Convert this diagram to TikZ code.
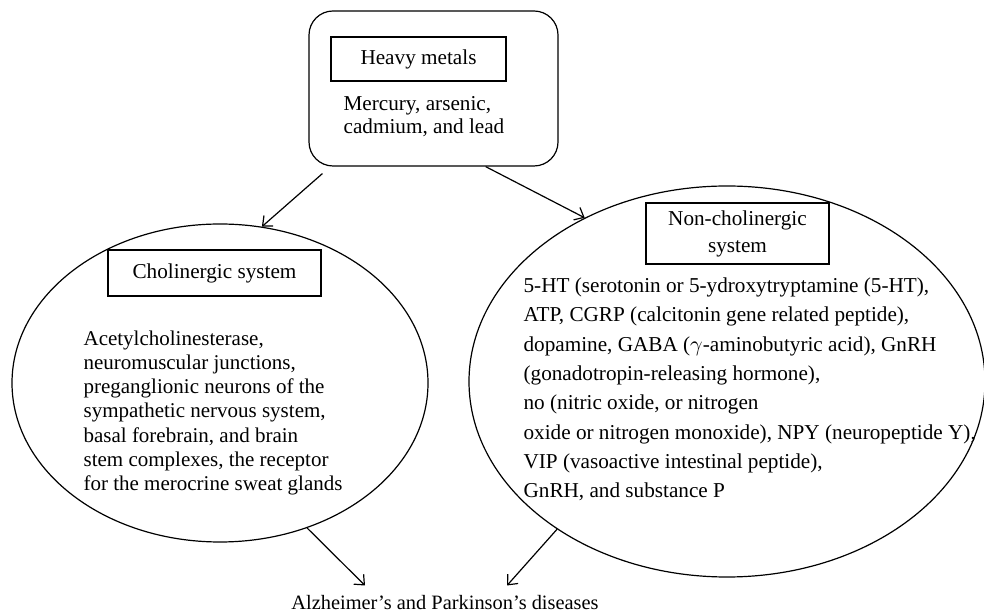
\documentclass[tikz,border=0pt]{standalone}
\usepackage{fontspec}
\setmainfont{Liberation Serif}
\usetikzlibrary{shapes.geometric,arrows.meta}

\begin{document}
\begin{tikzpicture}[x=0.5pt,y=-0.5pt]
\tikzset{cadre/.style={draw, rectangle, inner sep=0pt, align=center, font=\fontsize{10.6}{13.5}\selectfont},
         bulle/.style={draw, ellipse, inner sep=0pt},
         texte/.style={anchor=west, align=left, inner sep=0pt},
         fleche/.style={-{Straight Barb[length=4pt,width=7pt]}}}
\useasboundingbox (0,0) rectangle (984,613);
\begin{scope}[line width=0.6pt]
% metaux lourds
\node[draw, rounded corners=12pt, minimum width=124.5pt, minimum height=77.5pt] (HM) at (433.5,88.5) {};
\node[cadre, minimum width=87.5pt, minimum height=22pt] (HMt) at (418.5,59) {Heavy metals};
\node[texte, font=\fontsize{10.6}{11.5}\selectfont] (HMl) at (343,116.5) {Mercury, arsenic,\\cadmium, and lead};
% systeme cholinergique
\node[bulle, minimum width=208pt, minimum height=159pt] (CS) at (220,383) {};
\node[cadre, minimum width=106.5pt, minimum height=23pt] (CSt) at (214.5,273) {Cholinergic system};
\node[texte, font=\fontsize{10.5}{12.1}\selectfont] (CSl) at (83,412.8) {Acetylcholinesterase,\\neuromuscular junctions,\\preganglionic neurons of the\\sympathetic nervous system,\\basal forebrain, and brain\\stem complexes, the receptor\\for the merocrine sweat glands};
% systeme non cholinergique
\node[bulle, minimum width=258pt, minimum height=195.5pt] (NS) at (727,381.5) {};
\node[cadre, minimum width=91.5pt, minimum height=30.5pt] (NSt) at (737.5,233.5) {Non-cholinergic\\system};
\node[texte, font=\fontsize{10.6}{14.65}\selectfont] (NSl) at (523,389.5) {5-HT (serotonin or 5-ydroxytryptamine (5-HT),\\ATP, CGRP (calcitonin gene related peptide),\\dopamine, GABA ($\gamma$-aminobutyric acid), GnRH\\(gonadotropin-releasing hormone),\\no (nitric oxide, or nitrogen\\oxide or nitrogen monoxide), NPY (neuropeptide Y),\\VIP (vasoactive intestinal peptide),\\GnRH, and substance P};
% maladies
\node[inner sep=0pt, anchor=base, font=\fontsize{10.2}{12}\selectfont] (AP) at (445,609.5) {Alzheimer’s and Parkinson’s diseases};
\draw[fleche] ([xshift=7pt,yshift=-3.5pt]HM.south west) -- (CS.75.3);
\draw[fleche] ([xshift=-36.5pt]HM.south east) -- (NS.131.9);
\draw[fleche] (CS.-59) -- ([xshift=-40pt,yshift=12pt]AP.base);
\draw[fleche] (NS.221.2) -- ([xshift=31pt,yshift=12pt]AP.base);
\end{scope}
\end{tikzpicture}
\end{document}
